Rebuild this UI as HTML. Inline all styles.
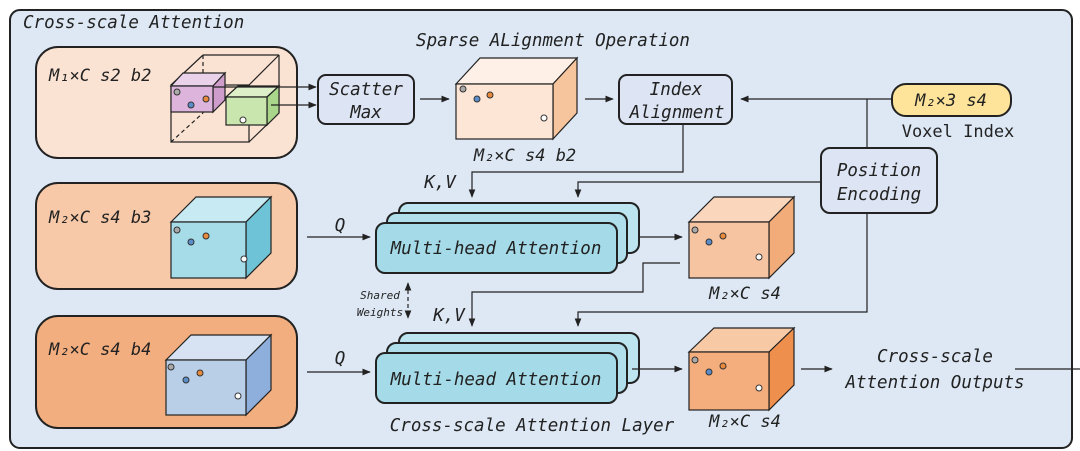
<!DOCTYPE html>
<html><head><meta charset="utf-8"><style>
html,body{margin:0;padding:0;background:#fff;}
svg{display:block;}
text{font-family:"DejaVu Sans Mono","Liberation Mono",monospace;font-style:italic;fill:#222;}
</style></head><body>
<svg width="1080" height="451" viewBox="0 0 1080 451" xmlns="http://www.w3.org/2000/svg">
<defs>
<marker id="ar" viewBox="0 0 10 10" refX="9" refY="5" markerWidth="7" markerHeight="7" orient="auto-start-reverse"><path d="M0,1 L10,5 L0,9 z" fill="#222"/></marker>
</defs>
<rect x="10" y="10" width="1062" height="438" rx="10" fill="#dde8f4" stroke="#222" stroke-width="2"/>
<text x="23" y="28" font-size="17.5">Cross-scale Attention</text>
<text x="553" y="46" font-size="17.5" text-anchor="middle">Sparse ALignment Operation</text>

<rect x="36" y="47" width="261" height="111" rx="22" fill="#fbe3d3" stroke="#222" stroke-width="2"/>
<rect x="36" y="183" width="261" height="106" rx="22" fill="#f7c9a8" stroke="#222" stroke-width="2"/>
<rect x="36" y="316" width="261" height="112" rx="22" fill="#f3ae7f" stroke="#222" stroke-width="2"/>
<text x="49" y="81" font-size="17">M₁×C s2 b2</text>
<text x="49" y="223" font-size="17">M₂×C s4 b3</text>
<text x="49" y="355" font-size="17">M₂×C s4 b4</text>

<g fill="none" stroke="#222" stroke-width="1.2">
<rect x="171" y="85" width="78" height="57"/>
<line x1="171" y1="85" x2="203" y2="55"/><line x1="249" y1="85" x2="279" y2="55"/><line x1="249" y1="142" x2="279" y2="113"/>
<line x1="203" y1="55" x2="279" y2="55"/><line x1="279" y1="55" x2="279" y2="113"/>
<line x1="203" y1="55" x2="203" y2="113" stroke-dasharray="4,3"/><line x1="171" y1="142" x2="203" y2="113" stroke-dasharray="4,3"/>
</g>
<g stroke="#222" stroke-width="1.2">
<polygon points="171,86 183,73 225,73 213,86" fill="#ead3ea"/>
<polygon points="213,86 225,73 225,100 213,112" fill="#cf9dcc"/>
<rect x="171" y="86" width="42" height="26" fill="#dcb4dc"/>
</g>
<circle cx="177" cy="92" r="3" fill="#aaa" stroke="#333"/><circle cx="191" cy="105" r="3" fill="#5b8ec9" stroke="#333"/><circle cx="206" cy="99" r="3" fill="#e88a3c" stroke="#333"/>
<g stroke="#222" stroke-width="1.2">
<polygon points="226,97 238,86 279,86 267,97" fill="#dcefc8"/>
<polygon points="267,97 279,86 279,113 267,125" fill="#a9d68a"/>
<rect x="226" y="97" width="41" height="28" fill="#c9e6ae"/>
</g>
<circle cx="243" cy="120" r="3" fill="#fff" stroke="#333"/>
<line x1="213" y1="87" x2="316" y2="87" stroke="#222" stroke-width="1.2" marker-end="url(#ar)"/>
<line x1="271" y1="105" x2="316" y2="105" stroke="#222" stroke-width="1.2" marker-end="url(#ar)"/>

<rect x="318" y="75" width="96" height="49" rx="8" fill="#dde4f3" stroke="#222" stroke-width="2"/>
<text x="366" y="95" font-size="17.5" text-anchor="middle">Scatter</text>
<text x="366" y="118" font-size="17.5" text-anchor="middle">Max</text>
<line x1="420" y1="99" x2="449" y2="99" stroke="#222" stroke-width="1.2" marker-end="url(#ar)"/>

<g stroke="#222" stroke-width="1.2">
<polygon points="456,84 480,58 577,58 553,84" fill="#fef0e6"/>
<polygon points="553,84 577,58 577,113 553,139" fill="#f6c49d"/>
<rect x="456" y="84" width="97" height="55" fill="#fde6d6"/>
</g>
<circle cx="463" cy="89" r="3" fill="#aaa" stroke="#333"/><circle cx="477" cy="99" r="3" fill="#5b8ec9" stroke="#333"/><circle cx="490" cy="95" r="3" fill="#e88a3c" stroke="#333"/><circle cx="544" cy="118" r="3" fill="#fff" stroke="#333"/>
<text x="525" y="161" font-size="17" text-anchor="middle">M₂×C s4 b2</text>
<line x1="585" y1="99" x2="613" y2="99" stroke="#222" stroke-width="1.2" marker-end="url(#ar)"/>

<rect x="619" y="75" width="113" height="49" rx="8" fill="#dde4f3" stroke="#222" stroke-width="2"/>
<text x="676" y="95" font-size="17.5" text-anchor="middle">Index</text>
<text x="677" y="118" font-size="17.5" text-anchor="middle">Alignment</text>
<line x1="893" y1="99" x2="741" y2="99" stroke="#222" stroke-width="1.2" marker-end="url(#ar)"/>
<polyline points="867,99 867,148" fill="none" stroke="#222" stroke-width="1.2"/>
<polyline points="867,213 867,312 578,312 578,326" fill="none" stroke="#222" stroke-width="1.2" marker-end="url(#ar)"/>

<rect x="892" y="84" width="119" height="32" rx="14" fill="#fde49a" stroke="#222" stroke-width="2"/>
<text x="951" y="106" font-size="17" text-anchor="middle">M₂×3 s4</text>
<text x="958" y="137" font-size="17" text-anchor="middle" style="font-style:normal">Voxel Index</text>

<rect x="821" y="148" width="116" height="65" rx="9" fill="#dde4f3" stroke="#222" stroke-width="2"/>
<text x="879" y="176" font-size="17.5" text-anchor="middle">Position</text>
<text x="879" y="200" font-size="17.5" text-anchor="middle">Encoding</text>

<polyline points="683,124 683,172 472,172 472,197" fill="none" stroke="#222" stroke-width="1.2" marker-end="url(#ar)"/>
<polyline points="821,182 578,182 578,197" fill="none" stroke="#222" stroke-width="1.2" marker-end="url(#ar)"/>
<text x="440" y="188" font-size="17.5" text-anchor="middle">K,V</text>

<g stroke="#222" stroke-width="2">
<rect x="399" y="203" width="240" height="50" rx="9" fill="#bde5ef"/>
<rect x="387" y="213" width="240" height="50" rx="9" fill="#b0dfeb"/>
<rect x="376" y="223" width="241" height="50" rx="9" fill="#a5dbe8"/>
</g>
<text x="496" y="254" font-size="17.5" text-anchor="middle">Multi-head Attention</text>
<line x1="307" y1="237" x2="370" y2="237" stroke="#222" stroke-width="1.2" marker-end="url(#ar)"/>
<text x="340" y="231" font-size="17.5" text-anchor="middle">Q</text>
<line x1="639" y1="237" x2="682" y2="237" stroke="#222" stroke-width="1.2" marker-end="url(#ar)"/>

<g stroke="#222" stroke-width="1.2">
<polygon points="689,222 714,197 794,197 769,222" fill="#fad6bd"/>
<polygon points="769,222 794,197 794,253 769,278" fill="#f2ac7a"/>
<rect x="689" y="222" width="80" height="56" fill="#f7c4a2"/>
</g>
<circle cx="695" cy="230" r="3" fill="#aaa" stroke="#333"/><circle cx="709" cy="242" r="3" fill="#5b8ec9" stroke="#333"/><circle cx="723" cy="236" r="3" fill="#e88a3c" stroke="#333"/><circle cx="759" cy="257" r="3" fill="#fff" stroke="#333"/>
<text x="745" y="299" font-size="17" text-anchor="middle">M₂×C s4</text>
<polyline points="680,263 643,263 643,292 472,292 472,326" fill="none" stroke="#222" stroke-width="1.2" marker-end="url(#ar)"/>
<text x="449" y="321" font-size="17.5" text-anchor="middle">K,V</text>

<text x="380" y="299" font-size="11" text-anchor="middle">Shared</text>
<text x="380" y="316" font-size="11" text-anchor="middle">Weights</text>
<line x1="408" y1="283" x2="408" y2="318" stroke="#222" stroke-width="1.2" stroke-dasharray="4,3" marker-start="url(#ar)" marker-end="url(#ar)"/>

<g stroke="#222" stroke-width="2">
<rect x="399" y="333" width="240" height="50" rx="9" fill="#bde5ef"/>
<rect x="387" y="343" width="240" height="50" rx="9" fill="#b0dfeb"/>
<rect x="376" y="353" width="241" height="50" rx="9" fill="#a5dbe8"/>
</g>
<text x="496" y="385" font-size="17.5" text-anchor="middle">Multi-head Attention</text>
<line x1="307" y1="372" x2="370" y2="372" stroke="#222" stroke-width="1.2" marker-end="url(#ar)"/>
<text x="340" y="364" font-size="17.5" text-anchor="middle">Q</text>
<line x1="632" y1="369" x2="682" y2="369" stroke="#222" stroke-width="1.2" marker-end="url(#ar)"/>

<g stroke="#222" stroke-width="1.2">
<polygon points="689,352 714,328 794,328 769,352" fill="#f8c9a5"/>
<polygon points="769,352 794,328 794,385 769,410" fill="#ee8f4e"/>
<rect x="689" y="352" width="80" height="58" fill="#f4ae7e"/>
</g>
<circle cx="695" cy="360" r="3" fill="#aaa" stroke="#333"/><circle cx="709" cy="372" r="3" fill="#5b8ec9" stroke="#333"/><circle cx="723" cy="366" r="3" fill="#e88a3c" stroke="#333"/><circle cx="759" cy="388" r="3" fill="#fff" stroke="#333"/>
<text x="745" y="427" font-size="17" text-anchor="middle">M₂×C s4</text>
<text x="532" y="431" font-size="17.5" text-anchor="middle">Cross-scale Attention Layer</text>

<line x1="801" y1="369" x2="832" y2="369" stroke="#222" stroke-width="1.2" marker-end="url(#ar)"/>
<text x="935" y="362" font-size="17.5" text-anchor="middle">Cross-scale</text>
<text x="935" y="388" font-size="17.5" text-anchor="middle">Attention Outputs</text>
<line x1="1015" y1="369" x2="1080" y2="369" stroke="#222" stroke-width="1.2"/>

<g stroke="#222" stroke-width="1.2">
<polygon points="171,222 196,197 271,197 246,222" fill="#c8eaf2"/>
<polygon points="246,222 271,197 271,253 246,278" fill="#6ec3d6"/>
<rect x="171" y="222" width="75" height="56" fill="#a6dbe8"/>
</g>
<circle cx="177" cy="230" r="3" fill="#aaa" stroke="#333"/><circle cx="191" cy="242" r="3" fill="#5b8ec9" stroke="#333"/><circle cx="206" cy="236" r="3" fill="#e88a3c" stroke="#333"/><circle cx="244" cy="259" r="3" fill="#fff" stroke="#333"/>
<g stroke="#222" stroke-width="1.2">
<polygon points="166,360 191,335 271,335 246,360" fill="#d7e3f2"/>
<polygon points="246,360 271,335 271,390 246,415" fill="#8eaedc"/>
<rect x="166" y="360" width="80" height="55" fill="#b9cfe8"/>
</g>
<circle cx="171" cy="367" r="3" fill="#aaa" stroke="#333"/><circle cx="186" cy="380" r="3" fill="#5b8ec9" stroke="#333"/><circle cx="200" cy="373" r="3" fill="#e88a3c" stroke="#333"/><circle cx="238" cy="396" r="3" fill="#fff" stroke="#333"/>
</svg>
</body></html>
